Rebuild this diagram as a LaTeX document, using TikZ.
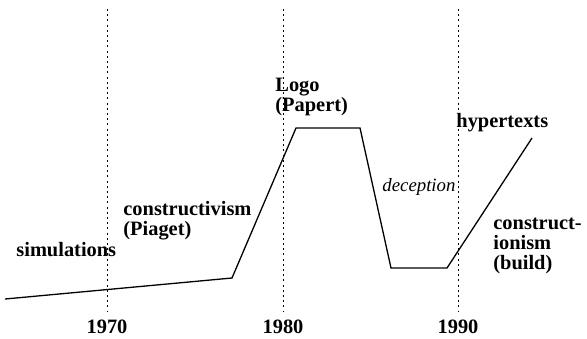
\documentclass[tikz,border=0pt]{standalone}
\usepackage{fontspec}
\setmainfont{Liberation Serif}
\begin{document}
\begin{tikzpicture}[x=0.5pt,y=-0.5pt,
  decade/.style={line width=0.5pt,dash pattern=on 1pt off 1.6pt},
  trend/.style={line width=0.65pt,line join=miter},
  lbl/.style={inner sep=0pt,anchor=base west,font=\fontsize{10.2}{9.8}\selectfont\bfseries},
  year/.style={inner sep=0pt,anchor=base,font=\fontsize{10.2}{9.8}\selectfont\bfseries},
  note/.style={inner sep=0pt,anchor=base west,font=\fontsize{9.4}{9.8}\selectfont\itshape}]
\useasboundingbox (0,0) rectangle (587,338);
\renewcommand{\arraystretch}{1.0}

% decade markers
\foreach \x/\yr in {107/1970,283/1980,458/1990}{
  \coordinate (top\yr) at (\x,9);
  \coordinate (bot\yr) at (\x,311);
  \draw[decade] (top\yr) -- (bot\yr);
  \node[year] (y\yr) at (\x,333) {\yr};
}

% trend curve
\coordinate (c0) at (5,299);
\coordinate (c1) at (232,278);
\coordinate (c2) at (296,128);
\coordinate (c3) at (360,128);
\coordinate (c4) at (391,268);
\coordinate (c5) at (447,268);
\coordinate (c6) at (532,138);
\draw[trend] (c0) -- (c1) -- (c2) -- (c3) -- (c4) -- (c5) -- (c6);

% labels
\node[lbl] (sim) at (16,256) {simulations};
\node[lbl] (constr) at (123,215) {\begin{tabular}[t]{@{}l@{}}constructivism\\(Piaget)\end{tabular}};
\node[lbl] (logo) at (275,91) {\begin{tabular}[t]{@{}l@{}}Logo\\(Papert)\end{tabular}};
\node[note] (dec) at (382,191) {deception};
\node[lbl] (hyper) at (456,127) {hypertexts};
\node[lbl] (constio) at (493,229) {\begin{tabular}[t]{@{}l@{}}construct-\\ionism\\(build)\end{tabular}};
\end{tikzpicture}
\end{document}
